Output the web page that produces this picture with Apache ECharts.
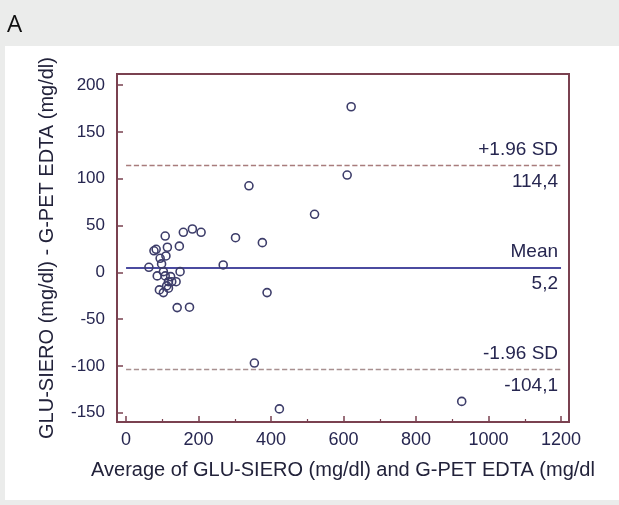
<!DOCTYPE html>
<html>
<head>
<meta charset="utf-8">
<script src="https://cdn.jsdelivr.net/npm/echarts@6/dist/echarts.min.js"></script>
<style>
html,body{margin:0;padding:0;background:#ebeceb;}
#c{width:619px;height:505px;}
</style>
</head>
<body>
<div id="c"></div>
<script>
// Data (average, difference)
const avgValues = [63,77,83,108,114,94,110,98,103,86,108,123,149,117,126,138,112,92,103,117,147,158,183,207,141,175,268,302,376,389,339,610,520,354,423,621,926];
const diffValues = [5.4,23,24.6,38.8,26.8,15,17.5,9,0.7,-3.8,-3.8,-4.6,0.7,-10,-10,-10,-14.5,-18.8,-21.7,-17,28,42.8,46.3,42.8,-37.7,-37.3,7.9,37,31.7,-21.7,92.5,104,62,-97,-146,177,-138];
const meanValue = 5.2;
const upperLimit = 114.4;
const lowerLimit = -104.1;
const xTickLabels = [0,200,400,600,800,1000,1200];
const xMinorTicks = [100,300,500,700,900,1100];
const yTickLabels = [-150,-100,-50,0,50,100,150,200];

const points = avgValues.map((v,i)=>[v,diffValues[i]]);
const fmt = v => String(v).replace('.', ',');

const chart = echarts.init(document.getElementById('c'), null, {renderer:'canvas'});
const frameColor = '#7a4150';
const labelColor = '#262650';
const font = 'Liberation Sans';

function refLine(val, top, bottom, color, type, width){
  return [
    [{coord:[0,val], lineStyle:{color:color,type:type,width:width},
      label:{show:true,position:'insideEndTop',formatter:top,color:labelColor,fontSize:19,fontFamily:font,distance:[3,6]}},
     {coord:[1200,val]}],
    [{coord:[0,val], lineStyle:{color:'rgba(0,0,0,0)',width:0},
      label:{show:true,position:'insideEndBottom',formatter:bottom,color:labelColor,fontSize:19,fontFamily:font,distance:[3,7]}},
     {coord:[1200,val]}]
  ];
}

chart.setOption({
  animation:false,
  backgroundColor:'#ebeceb',
  graphic:[
    {type:'rect',shape:{x:5,y:46,width:614,height:454},style:{fill:'#ffffff'},z:-10},
    {type:'text',left:7,top:13,style:{text:'A',fontSize:24,fontFamily:'Open Sans',fill:'#111111'}}
  ],
  grid:{left:117,top:74,width:452,height:348,show:true,borderColor:frameColor,borderWidth:2,backgroundColor:'#ffffff'},
  xAxis:[{
    type:'value',min:-25,max:1222,position:'bottom',
    axisLine:{show:false,onZero:false},splitLine:{show:false},
    axisTick:{inside:true,length:6,lineStyle:{color:frameColor,width:1.5},customValues:xTickLabels},
    axisLabel:{customValues:xTickLabels,formatter:v=>String(v),color:labelColor,fontSize:18,fontFamily:font,margin:9},
    name:'Average of GLU-SIERO (mg/dl) and G-PET EDTA (mg/dl',nameLocation:'middle',nameGap:38,
    nameTextStyle:{color:'#22223a',fontSize:20,fontFamily:font}
  },{
    type:'value',min:-25,max:1222,position:'bottom',
    axisLine:{show:false,onZero:false},splitLine:{show:false},axisLabel:{show:false},
    axisTick:{inside:true,length:3,lineStyle:{color:frameColor,width:1.2},customValues:xMinorTicks}
  }],
  yAxis:{
    type:'value',min:-160,max:212,position:'left',
    axisLine:{show:false,onZero:false},splitLine:{show:false},
    axisTick:{inside:true,length:6,lineStyle:{color:frameColor,width:1.5},customValues:yTickLabels},
    axisLabel:{customValues:yTickLabels,formatter:v=>String(v),color:labelColor,fontSize:17,fontFamily:font,margin:12},
    name:'GLU-SIERO (mg/dl) - G-PET EDTA (mg/dl)',nameLocation:'middle',nameGap:60,
    nameTextStyle:{color:'#22223a',fontSize:20,fontFamily:font}
  },
  series:[{
    type:'scatter',
    xAxisIndex:0,yAxisIndex:0,
    data:points,
    symbol:'circle',symbolSize:8,
    itemStyle:{color:'rgba(255,255,255,0)',borderColor:'#3d3d6a',borderWidth:1.6,opacity:1},
    z:5,
    markLine:{
      silent:true,symbol:'none',
      data:[].concat(
        refLine(upperLimit,'+1.96 SD',fmt(upperLimit),'#a87c7c','dashed',1.3),
        refLine(meanValue,'Mean',fmt(meanValue),'#4b4ba0','solid',2),
        refLine(lowerLimit,'-1.96 SD',fmt(lowerLimit),'#a89090','dashed',1.3)
      )
    }
  }]
});
</script>
</body>
</html>
